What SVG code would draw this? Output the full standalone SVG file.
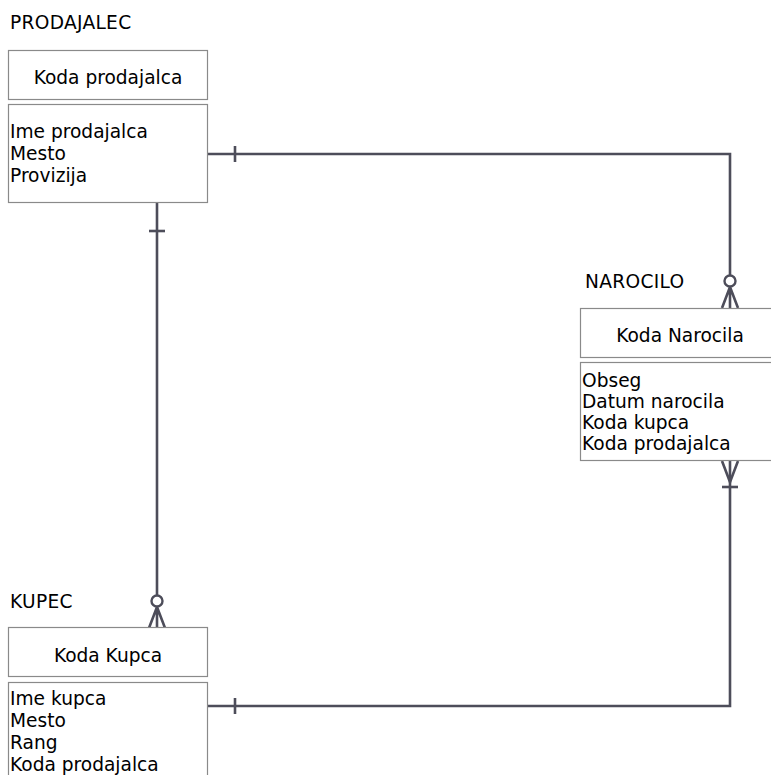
<svg xmlns="http://www.w3.org/2000/svg" width="771" height="775" viewBox="0 0 771 775">
<style>
text{font-family:"DejaVu Sans","Verdana",sans-serif;font-size:18.6px;fill:#000}
.lbl{letter-spacing:0.3px}
.box{fill:#fff;stroke:#8a8a8a;stroke-width:1.2}
.c{text-anchor:middle}
.ln{fill:none;stroke:#4d4d5a;stroke-width:2.6}
.circ{fill:#fff;stroke:#4d4d5a;stroke-width:2.4}
</style>
<rect width="771" height="775" fill="#fff"/>
<g id="connectors">
  <path class="ln" d="M207,154 H730 V276"/>
  <path class="ln" d="M235,146 V162"/>
  <circle class="circ" cx="730" cy="281" r="5.5"/>
  <path class="ln" d="M730,287 L722,308 M730,287 V308 M730,287 L738,308"/>
  <path class="ln" d="M157,203 V595"/>
  <path class="ln" d="M149,231 H165"/>
  <circle class="circ" cx="157" cy="601" r="5.5"/>
  <path class="ln" d="M157,607 L149,628 M157,607 V628 M157,607 L165,628"/>
  <path class="ln" d="M730,461 V706 H208"/>
  <path class="ln" d="M722,461 L730,482 L738,461"/>
  <path class="ln" d="M722,487 H738"/>
  <path class="ln" d="M235,698 V714"/>
</g>
<g id="prodajalec">
  <text class="lbl" x="10" y="28.5">PRODAJALEC</text>
  <rect class="box" x="8.5" y="50.5" width="199" height="49"/>
  <text class="c" x="108" y="83.5">Koda prodajalca</text>
  <rect class="box" x="8.5" y="104.5" width="199" height="98"/>
  <text x="10" y="137.5">Ime prodajalca</text>
  <text x="10" y="159.5">Mesto</text>
  <text x="10" y="181.5">Provizija</text>
</g>
<g id="narocilo">
  <text class="lbl" x="585" y="288">NAROCILO</text>
  <rect class="box" x="580.5" y="308.5" width="199" height="49"/>
  <text class="c" x="680" y="341.5">Koda Narocila</text>
  <rect class="box" x="580.5" y="362.5" width="199" height="98"/>
  <text x="582" y="387">Obseg</text>
  <text x="582" y="408">Datum narocila</text>
  <text x="582" y="429">Koda kupca</text>
  <text x="582" y="450">Koda prodajalca</text>
</g>
<g id="kupec">
  <text class="lbl" x="10" y="608">KUPEC</text>
  <rect class="box" x="8.5" y="627.5" width="199" height="49"/>
  <text class="c" x="108" y="661.5">Koda Kupca</text>
  <rect class="box" x="8.5" y="682.5" width="199" height="120"/>
  <text x="10" y="705">Ime kupca</text>
  <text x="10" y="727">Mesto</text>
  <text x="10" y="749">Rang</text>
  <text x="10" y="771">Koda prodajalca</text>
</g>
</svg>
